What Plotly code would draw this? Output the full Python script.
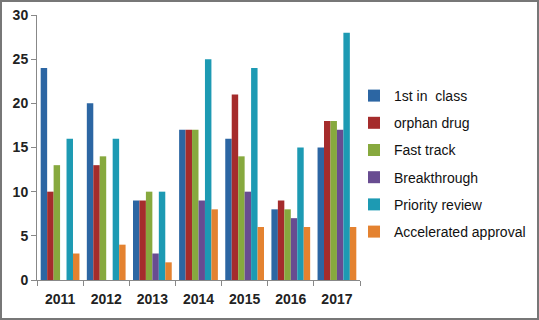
import plotly.graph_objects as go

years = ["2011", "2012", "2013", "2014", "2015", "2016", "2017"]
first_in_class = [24, 20, 9, 17, 16, 8, 15]
orphan_drug = [10, 13, 9, 17, 21, 9, 18]
fast_track = [13, 14, 10, 17, 14, 8, 18]
breakthrough = [None, None, 3, 9, 10, 7, 17]
priority_review = [16, 16, 10, 25, 24, 15, 28]
accelerated = [3, 4, 2, 8, 6, 6, 6]

series = [
    ("1st in  class", first_in_class, "#2C66A3"),
    ("orphan drug", orphan_drug, "#A52C2C"),
    ("Fast track", fast_track, "#87A93E"),
    ("Breakthrough", breakthrough, "#684C91"),
    ("Priority review", priority_review, "#1D9AB3"),
    ("Accelerated approval", accelerated, "#E48230"),
]

fig = go.Figure()
for i, (name, vals, col) in enumerate(series):
    fig.add_trace(go.Bar(x=years, y=vals, name=name, marker_color=col,
                         marker_line_width=0, legendgroup=str(i)))

W, H = 539, 320
l, r, t, b = 37, 179, 15, 40
pw, ph = W - l - r, H - t - b

fig.update_layout(
    width=W, height=H,
    margin=dict(l=l, r=r, t=t, b=b, autoexpand=False),
    paper_bgcolor="white", plot_bgcolor="white",
    barmode="group", bargap=0.16, bargroupgap=0,
    font=dict(family="Liberation Sans", color="#222"),
    showlegend=True,
    legend=dict(xref="container", yref="container", x=354 / W, y=1 - 80 / H,
                xanchor="left", yanchor="top", maxheight=300,
                font=dict(size=14, color="#111"), tracegroupgap=6,
                itemwidth=30, bgcolor="rgba(0,0,0,0)"),
    xaxis=dict(tickson="boundaries", ticks="outside", ticklen=5, tickcolor="#888",
               showline=True, linecolor="#888", linewidth=1, ticklabelstandoff=6,
               tickfont=dict(size=14, family="Liberation Sans", weight="bold", color="#222"),
               showgrid=False, automargin=False),
    yaxis=dict(range=[0, 30], dtick=5, ticks="outside", ticklen=5, tickcolor="#888",
               showline=True, linecolor="#888", linewidth=1, showgrid=False,
               zeroline=False, automargin=False,
               tickfont=dict(size=14, family="Liberation Sans", weight="bold", color="#222")),
    shapes=[dict(type="rect", xref="paper", yref="paper",
                 x0=(-l + 1) / pw, x1=1 + (r - 1) / pw,
                 y0=(-b + 1) / ph, y1=1 + (t - 1) / ph,
                 line=dict(color="#777", width=2), fillcolor="rgba(0,0,0,0)")],
)

fig.write_html("out.html", config={"displayModeBar": False},
               post_script="document.body.style.margin='0';")
